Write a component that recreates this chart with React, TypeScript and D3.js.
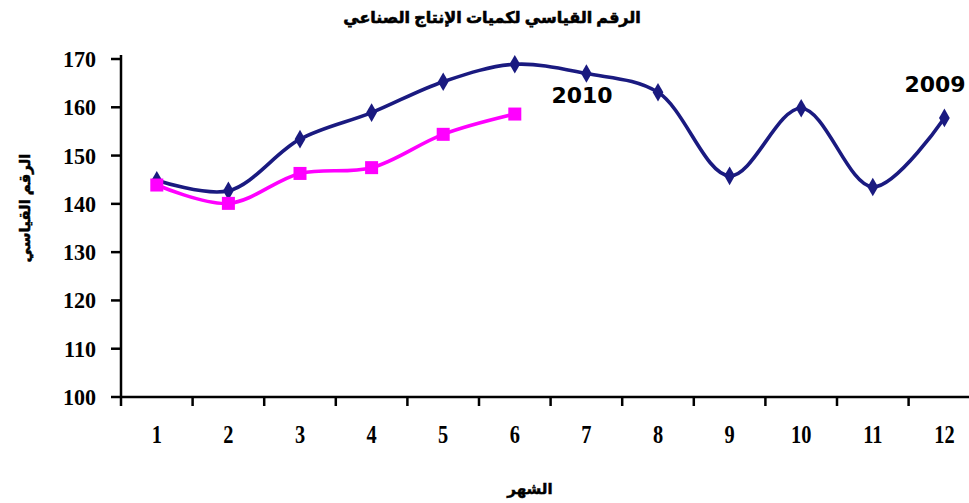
import React from "react";
import * as d3 from "d3";

const months = [1, 2, 3, 4, 5, 6, 7, 8, 9, 10, 11, 12];
const values2009 = [144.9, 142.7, 153.4, 158.9, 165.3, 168.9, 167.0, 163.1, 145.8, 159.8, 143.5, 157.8];
const values2010 = [143.9, 140.1, 146.3, 147.5, 154.4, 158.6];
const yTicks = [100, 110, 120, 130, 140, 150, 160, 170];
const titleText = "الرقم القياسي لكميات الإنتاج الصناعي";
const yLabel = "الرقم القياسي";
const xLabel = "الشهر";

export default function App() {
  const W = 969, H = 503;
  const x0 = 121, step = 71.6;
  const x = d3.scaleLinear().domain([0.5, 12.5]).range([x0, x0 + step * 12]);
  const y = d3.scaleLinear().domain([100, 170]).range([397, 59]);

  const line = d3
    .line<number>()
    .x((_, i) => x(months[i]))
    .y((d) => y(d))
    .curve(d3.curveCatmullRom.alpha(0.5));

  const diamond = d3.symbol().type(d3.symbolDiamond).size(100)();

  const boundaries = d3.range(0, 13).map((i) => 0.5 + i);
  const arabicFont = "'Noto Sans', 'DejaVu Sans', sans-serif";
  const tickFont = "'Liberation Serif', 'DejaVu Serif', serif";

  return (
    <svg width={W} height={H} style={{ position: "absolute", left: 0, top: 0, background: "#fff" }}>
      <text x={492} y={23} textAnchor="middle" fontFamily={arabicFont} fontWeight="900" fontSize={16} direction="rtl" stroke="#000" strokeWidth={0.6}>
        {titleText}
      </text>
      <text transform="translate(30,208) rotate(-90)" textAnchor="middle" fontFamily={arabicFont} fontWeight="bold" fontSize={15} direction="rtl" stroke="#000" strokeWidth={0.5}>
        {yLabel}
      </text>
      <text x={530} y={494} textAnchor="middle" fontFamily={arabicFont} fontWeight="bold" fontSize={15} direction="rtl" stroke="#000" strokeWidth={0.5}>
        {xLabel}
      </text>

      {/* y axis */}
      <line x1={x0} x2={x0} y1={y(170) - 4} y2={y(100)} stroke="#000" strokeWidth={2.5} />
      {yTicks.map((t) => (
        <g key={t}>
          <line x1={x0 - 10} x2={x0} y1={y(t)} y2={y(t)} stroke="#000" strokeWidth={2.5} />
          <text transform={`translate(96,${y(t) + 8}) scale(0.92,1)`} textAnchor="end" fontFamily={tickFont} fontWeight="bold" fontSize={24}>
            {t}
          </text>
        </g>
      ))}

      {/* x axis */}
      <line x1={x0 - 1} x2={W} y1={y(100)} y2={y(100)} stroke="#000" strokeWidth={2.5} />
      {boundaries.map((b) => (
        <line key={b} x1={x(b)} x2={x(b)} y1={y(100)} y2={y(100) + 9} stroke="#000" strokeWidth={2.5} />
      ))}
      {months.map((m) => (
        <text key={m} transform={`translate(${x(m)},443) scale(0.85,1.05)`} textAnchor="middle" fontFamily={tickFont} fontWeight="bold" fontSize={24}>
          {m}
        </text>
      ))}

      {/* 2009 series */}
      <path d={line(values2009) || ""} fill="none" stroke="#1a1a80" strokeWidth={3.6} />
      {values2009.map((v, i) => (
        <path key={i} d={diamond || ""} transform={`translate(${x(months[i])},${y(v)})`} fill="#1a1a80" />
      ))}

      {/* 2010 series */}
      <path d={line(values2010) || ""} fill="none" stroke="#ff00ff" strokeWidth={3.6} />
      {values2010.map((v, i) => (
        <rect key={i} x={x(months[i]) - 6.5} y={y(v) - 6.5} width={13} height={13} fill="#ff00ff" />
      ))}

      <text x={582} y={103} textAnchor="middle" fontFamily="'DejaVu Sans', sans-serif" fontWeight="bold" fontSize={22}>
        2010
      </text>
      <text x={935} y={92} textAnchor="middle" fontFamily="'DejaVu Sans', sans-serif" fontWeight="bold" fontSize={22}>
        2009
      </text>
    </svg>
  );
}
